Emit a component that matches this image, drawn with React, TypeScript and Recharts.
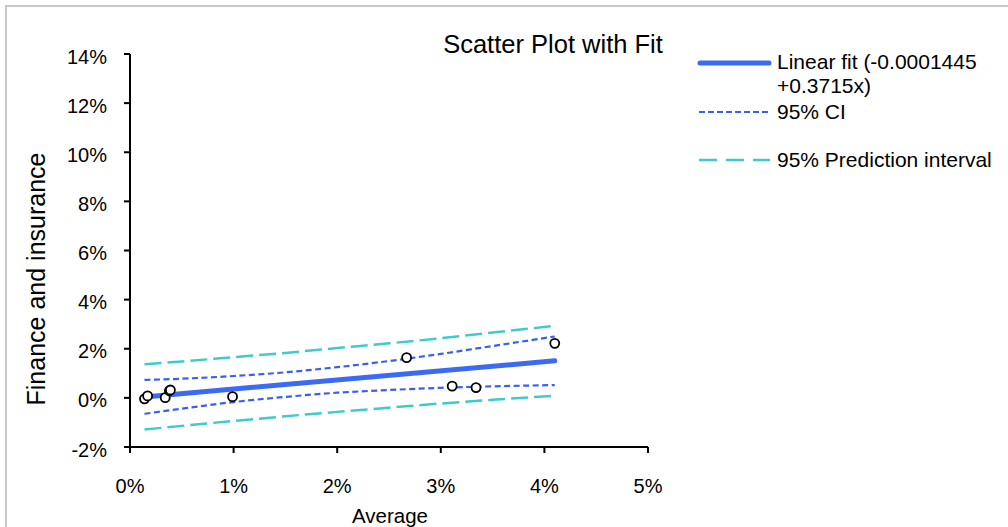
import { ComposedChart, Line, Scatter, XAxis, YAxis } from 'recharts';

// values are in percent
const pointsX = [0.14, 0.17, 0.34, 0.38, 0.39, 0.99, 2.67, 3.11, 3.34, 4.1];
const pointsY = [-0.04, 0.08, 0.01, 0.29, 0.32, 0.05, 1.64, 0.48, 0.42, 2.22];

const fitX = [0.14, 4.1];
const fitY = [0.04, 1.51];

const bandX = [0.14, 0.5, 1.0, 1.5, 2.0, 2.5, 3.0, 3.5, 4.1];
const ciUpper = [0.73, 0.78, 0.89, 1.04, 1.25, 1.5, 1.79, 2.11, 2.5];
const ciLower = [-0.65, -0.44, -0.17, 0.04, 0.21, 0.32, 0.41, 0.47, 0.52];
const piUpper = [1.37, 1.48, 1.66, 1.83, 2.03, 2.22, 2.43, 2.66, 2.93];
const piLower = [-1.29, -1.14, -0.94, -0.75, -0.57, -0.4, -0.23, -0.08, 0.09];

const xTicks = [0, 1, 2, 3, 4, 5];
const yTicks = [-2, 0, 2, 4, 6, 8, 10, 12, 14];

const FONT = '"Liberation Sans", Arial, sans-serif';
const FIT_COLOR = '#3b6af4';
const CI_COLOR = '#3a5ff0';
const PI_COLOR = '#3ccccc';

const zip = (xs: number[], ys: number[]) => xs.map((x, i) => ({ x, y: ys[i] }));

const points = zip(pointsX, pointsY);
const fit = zip(fitX, fitY);
const ciUp = zip(bandX, ciUpper);
const ciLo = zip(bandX, ciLower);
const piUp = zip(bandX, piUpper);
const piLo = zip(bandX, piLower);

const YTick = ({ x, y, payload }: any) => (
  <text x={x} y={y + 9.5} textAnchor="end" fontFamily={FONT} fontSize={20} fill="#000">
    {payload.value}%
  </text>
);

const XTick = ({ x, y, payload }: any) => (
  <text x={x} y={y + 40} textAnchor="middle" fontFamily={FONT} fontSize={20} fill="#000">
    {payload.value}%
  </text>
);

const Dot = ({ cx, cy }: any) => (
  <circle cx={cx} cy={cy} r={4.5} fill="#fff" stroke="#000" strokeWidth={1.8} />
);

const legendText: React.CSSProperties = {
  position: 'absolute',
  left: 87,
  fontFamily: FONT,
  fontSize: 21,
  lineHeight: '24px',
  color: '#000',
  whiteSpace: 'nowrap',
};

function ChartLegend() {
  return (
    <div style={{ position: 'absolute', left: 690, top: 30, width: 318, height: 160 }}>
      <svg width={90} height={160} style={{ position: 'absolute', left: 0, top: 0 }}>
        <line x1={10} x2={79} y1={33} y2={33} stroke={FIT_COLOR} strokeWidth={5} strokeLinecap="round" />
        <line x1={9} x2={80} y1={82} y2={82} stroke={CI_COLOR} strokeWidth={2} strokeDasharray="6 3" />
        <line x1={9} x2={80} y1={130} y2={130} stroke={PI_COLOR} strokeWidth={2.5} strokeDasharray="18 9" />
      </svg>
      <div style={{ ...legendText, top: 20 }}>
        Linear fit (-0.0001445
        <br />
        +0.3715x)
      </div>
      <div style={{ ...legendText, top: 70 }}>95% CI</div>
      <div style={{ ...legendText, top: 118 }}>95% Prediction interval</div>
    </div>
  );
}

export default function App() {
  return (
    <div style={{ position: 'absolute', left: 0, top: 0, width: 1008, height: 527, background: '#fff', overflow: 'hidden' }}>
      <div
        style={{
          position: 'absolute',
          left: 5,
          top: 5,
          width: 1020,
          height: 540,
          border: '2px solid #c8c8c8',
        }}
      />
      <ComposedChart width={1008} height={527} margin={{ top: 54, right: 360, bottom: 40, left: 0 }}>
        <XAxis
          type="number"
          dataKey="x"
          domain={[0, 5]}
          ticks={xTicks}
          tick={<XTick />}
          tickSize={6}
          tickMargin={0}
          height={40}
          axisLine={{ stroke: '#000', strokeWidth: 2 }}
          tickLine={{ stroke: '#000', strokeWidth: 2 }}
          allowDataOverflow
        />
        <YAxis
          type="number"
          dataKey="y"
          domain={[-2, 14]}
          ticks={yTicks}
          tick={<YTick />}
          tickSize={6}
          tickMargin={17}
          width={130}
          axisLine={{ stroke: '#000', strokeWidth: 2 }}
          tickLine={{ stroke: '#000', strokeWidth: 2 }}
          allowDataOverflow
        />
        <Line data={piUp} dataKey="y" type="monotone" stroke={PI_COLOR} strokeWidth={2.5} strokeDasharray="17 6" dot={false} isAnimationActive={false} />
        <Line data={piLo} dataKey="y" type="monotone" stroke={PI_COLOR} strokeWidth={2.5} strokeDasharray="17 6" dot={false} isAnimationActive={false} />
        <Line data={ciUp} dataKey="y" type="monotone" stroke={CI_COLOR} strokeWidth={2.2} strokeDasharray="6 3.5" dot={false} isAnimationActive={false} />
        <Line data={ciLo} dataKey="y" type="monotone" stroke={CI_COLOR} strokeWidth={2.2} strokeDasharray="6 3.5" dot={false} isAnimationActive={false} />
        <Line data={fit} dataKey="y" type="linear" stroke={FIT_COLOR} strokeWidth={5} strokeLinecap="round" dot={false} isAnimationActive={false} />
        <Scatter data={points} dataKey="y" shape={<Dot />} isAnimationActive={false} />
      </ComposedChart>
      <svg width={1008} height={527} style={{ position: 'absolute', left: 0, top: 0, pointerEvents: 'none' }}>
        <text x={553} y={53} textAnchor="middle" fontFamily={FONT} fontSize={25.5} fill="#000">
          Scatter Plot with Fit
        </text>
        <text x={390} y={523} textAnchor="middle" fontFamily={FONT} fontSize={20.5} fill="#000">
          Average
        </text>
        <text
          x={45}
          y={279}
          textAnchor="middle"
          fontFamily={FONT}
          fontSize={25}
          fill="#000"
          transform="rotate(-90 45 279)"
        >
          Finance and insurance
        </text>
      </svg>
      <ChartLegend />
    </div>
  );
}
